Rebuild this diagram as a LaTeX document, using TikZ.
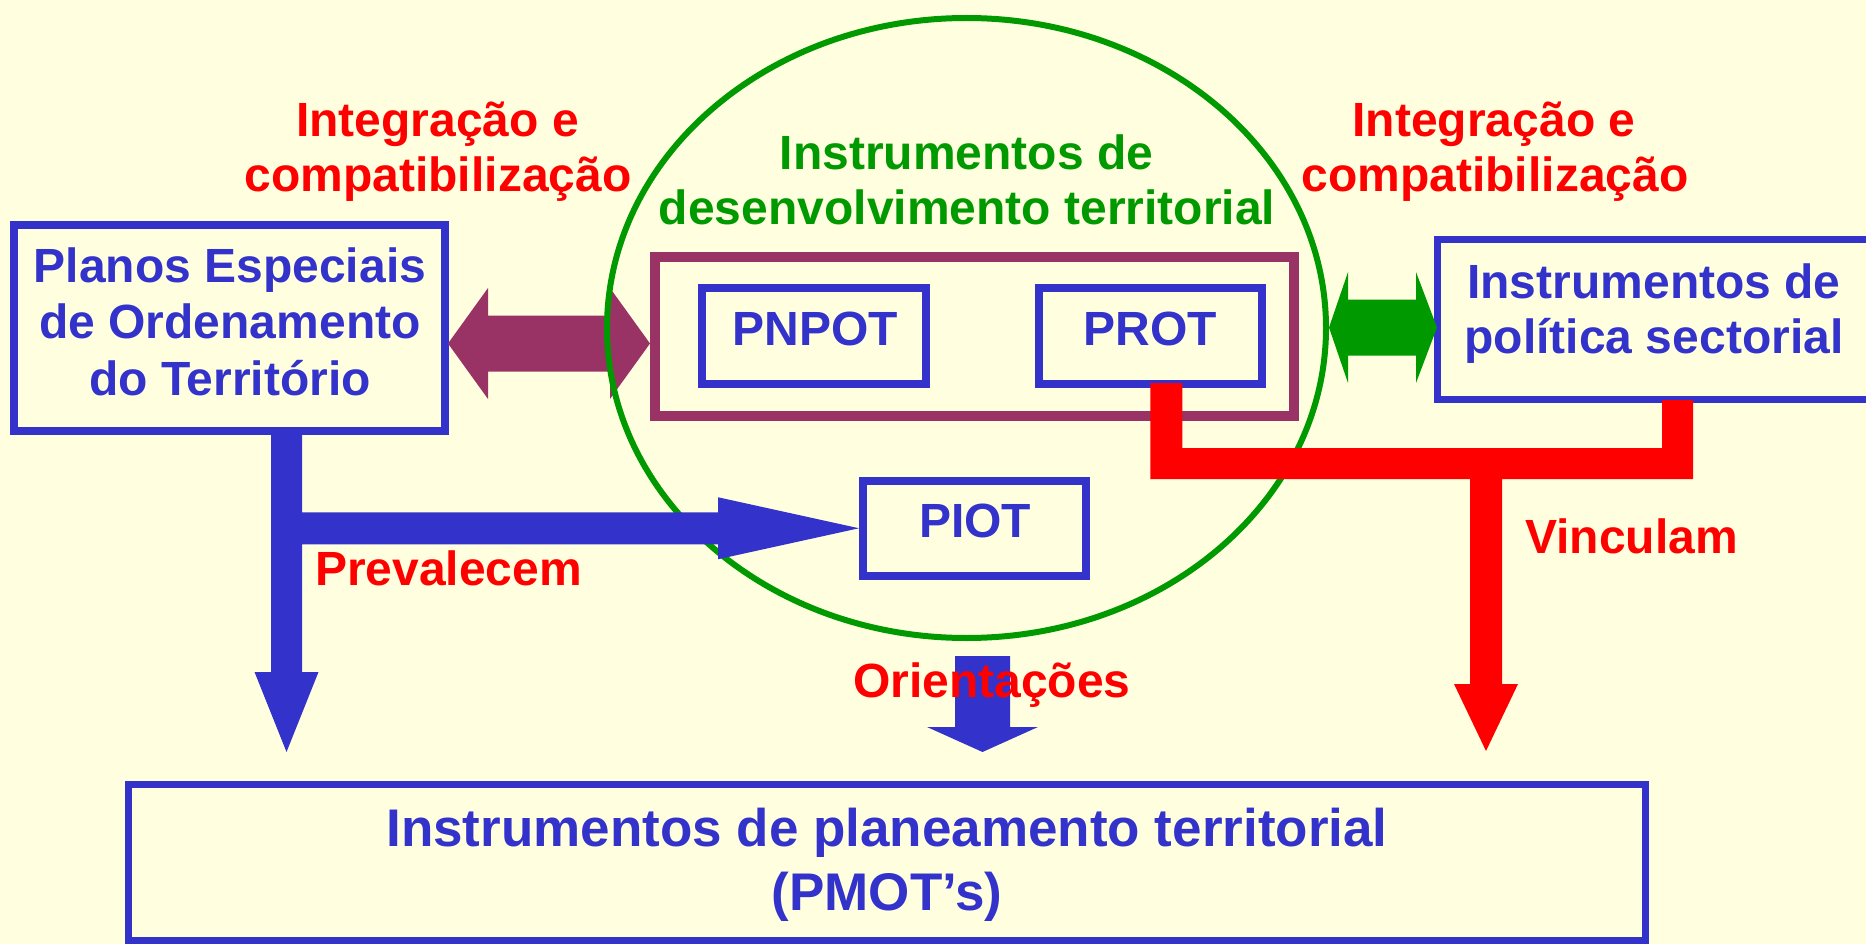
\documentclass[tikz,border=0pt]{standalone}
\usepackage{fontspec}
\setmainfont{Liberation Sans}
\usetikzlibrary{calc,shapes.geometric}
\definecolor{bgC}{RGB}{255,255,224}
\definecolor{blueC}{RGB}{51,51,204}
\definecolor{purpC}{RGB}{153,51,102}
\definecolor{greenC}{RGB}{0,153,0}
\definecolor{redC}{RGB}{255,0,0}
\begin{document}
\begin{tikzpicture}[x=1pt,y=-1pt,
  box/.style={draw=blueC, line width=8pt, rectangle, inner sep=0pt},
  lbl/.style={inner sep=0pt, anchor=base, font=\fontsize{48}{55}\selectfont\bfseries},
  blbl/.style={lbl, text=blueC},
  rlbl/.style={lbl, text=redC},
  glbl/.style={lbl, text=greenC},
]
\useasboundingbox (0,0) rectangle (1866,944);
\clip (0,0) rectangle (1866,944);
\fill[bgC] (0,0) rectangle (1866,944);

% boxes
\node[box, minimum width=431pt, minimum height=206pt] (planos) at (229.5,328) {};
% purple double arrow
\fill[purpC] ($(planos.east)+(-1,15.5)$) coordinate (pa) -- ++(40,-55.5) -- ++(0,27.5) -- ++(122,0) -- ++(0,-27.5) -- ++(40,55.5) -- ++(-40,55.5) -- ++(0,-27.5) -- ++(-122,0) -- ++(0,27.5) -- cycle;
\node[ellipse, draw=greenC, line width=6pt, inner sep=0pt, minimum width=719pt, minimum height=620pt] (dev) at (966.5,328) {};
\node[rectangle, draw=purpC, line width=10pt, inner sep=0pt, minimum width=639.5pt, minimum height=159.5pt] (grp) at (974.25,336.25) {};
\node[box, minimum width=223.5pt, minimum height=96pt] (pnpot) at (813.75,336) {};
\node[box, minimum width=223.5pt, minimum height=96pt] (prot) at (1150.25,336) {};
\node[box, minimum width=223pt, minimum height=95.5pt] (piot) at (974.5,528.25) {};
\node[box, line width=7pt, minimum width=472.5pt, minimum height=160pt] (sector) at (1673.75,319.5) {};
\node[box, line width=7pt, minimum width=1517pt, minimum height=156pt] (bottom) at (887,862.5) {};

% green double arrow
\fill[greenC] ($(dev.east)+(0,-0.5)$) -- ++(19,-55.5) -- ++(0,27.5) -- ++(68,0) -- ++(0,-27.5) -- ++(21,55.5) -- ++(-21,55.5) -- ++(0,-27.5) -- ++(-68,0) -- ++(0,27.5) -- cycle;

% blue arrows from planos
\coordinate (bv) at ($(planos.south)+(57,0)$);
\coordinate (bvb) at (bv |- bottom.north);
\coordinate (bvh) at (bv |- piot.west);
\fill[blueC] ($(bv)+(-15.5,-2)$) -- ($(bvb)+(-15.5,-109)$) -- ($(bvb)+(-32,-109)$) -- ($(bvb)+(0,-29)$) -- ($(bvb)+(32,-109)$) -- ($(bvb)+(15.5,-109)$) -- ($(bvh)+(15.5,16)$) -- ($(piot.west)+(-141,16)$) -- ($(piot.west)+(-141,31)$) -- (piot.west) -- ($(piot.west)+(-141,-31)$) -- ($(piot.west)+(-141,-16)$) -- ($(bvh)+(15.5,-16)$) -- ($(bv)+(15.5,-2)$) -- cycle;

% orientacoes arrow
\coordinate (oa) at ($(dev.south)+(16,0)$);
\coordinate (oab) at (oa |- bottom.north);
\fill[blueC] ($(oa)+(-27.5,15)$) -- ($(oab)+(-27.5,-54)$) -- ($(oab)+(-55.5,-54)$) -- ($(oab)+(0,-29)$) -- ($(oab)+(55.5,-54)$) -- ($(oab)+(27.5,-54)$) -- ($(oa)+(27.5,15)$) -- cycle;

% red connector
\coordinate (rp) at ($(prot.south)+(16,-5)$);
\coordinate (rs) at ($(sector.south west)+(243.5,-3)$);
\coordinate (rd) at (1486,463.5);
\coordinate (rdb) at (rd |- bottom.north);
\fill[redC] ($(rp)+(-16,0)$) |- ($(rd)+(-16,15.5)$) -- ($(rdb)+(-16,-97)$) -- ($(rdb)+(-32,-97)$) -- ($(rdb)+(0,-30)$) -- ($(rdb)+(32,-97)$) -- ($(rdb)+(16,-97)$) -- ($(rd)+(16,15.5)$) -| ($(rs)+(15.5,0)$) -- ($(rs)+(-15.5,0)$) |- ($(rd)+(0,-15.5)$) -| ($(rp)+(16,0)$) -- cycle;

% texts
\node[rlbl] (ia1) at (437.5,137) {Integração e};
\node[rlbl] (ia2) at (438,192) {compatibilização};
\node[rlbl] (ib1) at (1494,137) {Integração e};
\node[rlbl] (ib2) at (1495,192) {compatibilização};
\node[glbl] (g1) at (966.5,170) {Instrumentos de};
\node[glbl] (g2) at (967,225) {desenvolvimento territorial};
\node[blbl] (p1) at (230,282) {Planos Especiais};
\node[blbl] (p2) at (230,338) {de Ordenamento};
\node[blbl] (p3) at (230,395) {do Território};
\node[blbl] (s1) at (1654,298) {Instrumentos de};
\node[blbl] (s2) at (1654,353) {política sectorial};
\node[blbl] (tpn) at (815,345) {PNPOT};
\node[blbl] (tpr) at (1150,345) {PROT};
\node[blbl] (tpi) at (975,537) {PIOT};
\node[rlbl, anchor=base west] (prev) at (315,585) {Prevalecem};
\node[rlbl, anchor=base west] (ori) at (853,697) {Orientações};
\node[rlbl, anchor=base west] (vin) at (1525,553) {Vinculam};
\node[blbl, font=\fontsize{53}{64}\selectfont\bfseries] (b1) at (887,846) {Instrumentos de planeamento territorial};
\node[blbl, font=\fontsize{53}{64}\selectfont\bfseries] (b2) at (887,910) {(PMOT’s)};
\end{tikzpicture}
\end{document}
